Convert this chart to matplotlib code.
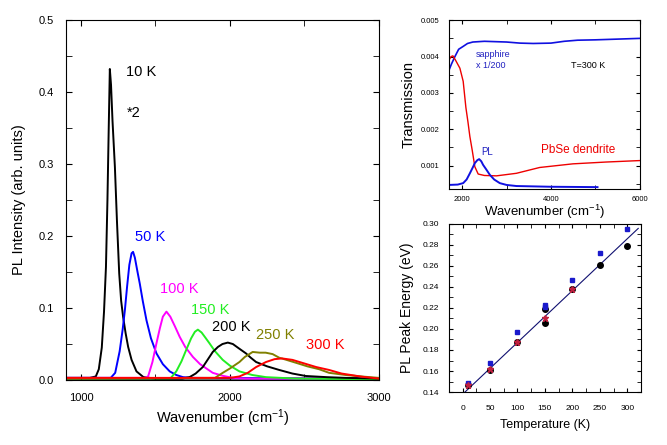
import matplotlib
matplotlib.use('Agg')
import matplotlib.pyplot as plt
from matplotlib.ticker import MultipleLocator, FormatStrFormatter

plt.rcParams['font.family'] = ['Liberation Sans', 'DejaVu Sans']
plt.rcParams['mathtext.default'] = 'regular'

# --- left panel: PL spectra at various temperatures ---
wn_10 = [900, 1060, 1100, 1120, 1140, 1155, 1168, 1178, 1186, 1194, 1202, 1212, 1228, 1242, 1257,
         1270, 1283, 1300, 1317, 1340, 1373, 1420, 1500, 2000, 2500, 3000]
pl_10 = [0.003, 0.003, 0.005, 0.015, 0.045, 0.095, 0.157, 0.25, 0.343, 0.432, 0.41, 0.36, 0.296, 0.22, 0.148,
         0.11, 0.088, 0.065, 0.046, 0.028, 0.012, 0.004, 0.002, 0.002, 0.002, 0.002]

wn_50 = [900, 1200, 1230, 1260, 1280, 1295, 1310, 1325, 1340, 1350, 1362, 1380, 1395, 1415, 1440,
         1470, 1507, 1550, 1596, 1640, 1685, 1750, 2500, 3000]
pl_50 = [0.003, 0.003, 0.01, 0.04, 0.07, 0.097, 0.13, 0.16, 0.176, 0.178, 0.17, 0.15, 0.134, 0.11, 0.083,
         0.058, 0.037, 0.022, 0.012, 0.007, 0.004, 0.003, 0.002, 0.002]

wn_100 = [900, 1430, 1451, 1480, 1507, 1530, 1550, 1574, 1600, 1630, 1663, 1700, 1752, 1800, 1885,
          1950, 2020, 2100, 3000]
pl_100 = [0.003, 0.003, 0.005, 0.025, 0.051, 0.072, 0.088, 0.095, 0.088, 0.075, 0.060, 0.046, 0.032, 0.022, 0.01,
          0.006, 0.003, 0.002, 0.002]

wn_150 = [900, 1600, 1640, 1675, 1707, 1740, 1765, 1785, 1810, 1835, 1863, 1900, 1952, 2000, 2064,
          2150, 2242, 2440, 3000]
pl_150 = [0.002, 0.002, 0.012, 0.026, 0.042, 0.058, 0.067, 0.070, 0.066, 0.059, 0.051, 0.04, 0.028, 0.02, 0.012,
          0.007, 0.004, 0.002, 0.001]

wn_200 = [900, 1680, 1729, 1770, 1818, 1850, 1885, 1920, 1950, 1986, 2020, 2060, 2108, 2140, 2176,
          2250, 2331, 2420, 2510, 2650, 2777, 3000]
pl_200 = [0.002, 0.002, 0.004, 0.009, 0.018, 0.028, 0.039, 0.046, 0.05, 0.052, 0.05, 0.044, 0.037, 0.031, 0.025,
          0.019, 0.014, 0.009, 0.0056, 0.004, 0.003, 0.002]

wn_250 = [900, 1900, 1952, 2000, 2064, 2100, 2153, 2200, 2240, 2287, 2331, 2380, 2443, 2520, 2599,
          2666, 2777, 2880, 3000]
pl_250 = [0.002, 0.003, 0.01, 0.016, 0.025, 0.032, 0.039, 0.038, 0.038, 0.036, 0.031, 0.028, 0.024, 0.019, 0.015,
          0.010, 0.007, 0.005, 0.003]

wn_300 = [900, 2000, 2064, 2120, 2176, 2242, 2300, 2350, 2420, 2500, 2580, 2666, 2750, 2887, 3000]
pl_300 = [0.003, 0.003, 0.005, 0.01, 0.018, 0.025, 0.029, 0.030, 0.028, 0.023, 0.018, 0.014, 0.009, 0.0046, 0.002]

spectra = [
    (wn_10, pl_10, 'black', '10 K', 1305, 0.428),
    (wn_50, pl_50, '#0000ff', '50 K', 1360, 0.198),
    (wn_100, pl_100, '#ff00ff', '100 K', 1528, 0.127),
    (wn_150, pl_150, '#22ee22', '150 K', 1740, 0.097),
    (wn_200, pl_200, 'black', '200 K', 1880, 0.074),
    (wn_250, pl_250, '#808000', '250 K', 2175, 0.0625),
    (wn_300, pl_300, '#ff0000', '300 K', 2510, 0.049),
]

# --- top right: transmission ---
wn_sapph = [1700, 1760, 1836, 1920, 2022, 2120, 2240, 2500, 3000, 3300, 3600, 4000, 4300, 4600, 5000, 5500, 6000]
tr_sapph = [0.00362, 0.0038, 0.004, 0.0042, 0.00428, 0.00436, 0.0044, 0.00442, 0.0044, 0.00437, 0.00436,
            0.00437, 0.00442, 0.00445, 0.00446, 0.00448, 0.0045]

wn_pbse = [1700, 1750, 1790, 1850, 1948, 2022, 2083, 2130, 2173, 2225, 2285, 2360, 2500, 2773, 3222, 3746,
           4494, 5245, 6000]
tr_pbse = [0.0039, 0.004, 0.00402, 0.0039, 0.00368, 0.00332, 0.0026, 0.0022, 0.0018, 0.00143, 0.00097, 0.00077,
           0.00073, 0.00072, 0.00079, 0.00095, 0.00105, 0.0011, 0.00114]

wn_pl = [1700, 1900, 2022, 2100, 2173, 2230, 2285, 2340, 2382, 2430, 2472, 2540, 2622, 2720, 2847, 3000,
         3222, 4000, 5050]
tr_pl = [0.00047, 0.00048, 0.00052, 0.00062, 0.00079, 0.00093, 0.00107, 0.00115, 0.00118, 0.00112, 0.00102,
         0.0009, 0.00075, 0.00062, 0.00052, 0.00047, 0.00044, 0.00042, 0.00041]

# --- bottom right: peak energy vs temperature ---
temp_circ = [10, 50, 100, 150, 150, 200, 250, 300]
e_circ = [0.1464, 0.1613, 0.1876, 0.2194, 0.2057, 0.2378, 0.2613, 0.2788]
temp_sq = [10, 50, 100, 150, 150, 200, 250, 300]
e_sq = [0.1486, 0.1676, 0.197, 0.2232, 0.2205, 0.247, 0.2718, 0.2947]
temp_star = [10, 50, 100, 150, 200]
e_star = [0.1466, 0.1615, 0.1878, 0.2109, 0.2378]
fit_slope = 0.000493
fit_intercept = 0.1379
fit_range = [4.2, 320]

fig = plt.figure(figsize=(6.67, 4.45), dpi=100)

# left panel
ax1 = fig.add_axes([0.099, 0.146, 0.469, 0.809])
for x, y, c, lab, tx, ty in spectra:
    ax1.plot(x, y, color=c, lw=1.4)
    ax1.text(tx, ty, lab, color=c, fontsize=10.5, va='center', ha='left')
ax1.text(1305, 0.371, '*2', color='black', fontsize=10.5, va='center', ha='left')
ax1.set_xlim(900, 3000)
ax1.set_ylim(0, 0.5)
ax1.xaxis.set_major_locator(MultipleLocator(1000))
ax1.xaxis.set_minor_locator(MultipleLocator(500))
ax1.yaxis.set_major_locator(MultipleLocator(0.1))
ax1.yaxis.set_minor_locator(MultipleLocator(0.05))
ax1.yaxis.set_major_formatter(FormatStrFormatter('%.1f'))
ax1.tick_params(which='both', direction='in', top=True, right=True, labelsize=8, length=4)
ax1.tick_params(axis='x', pad=9)
ax1.tick_params(axis='y', pad=9)
ax1.set_xlabel(r'Wavenumber (cm$^{-1}$)', fontsize=10.5)
ax1.xaxis.set_label_coords(0.5, -0.075)
ax1.set_ylabel('PL Intensity (arb. units)', fontsize=10.5)
ax1.yaxis.set_label_coords(-0.127, 0.5)

# top right panel
ax2 = fig.add_axes([0.673, 0.5746, 0.286, 0.380])
ax2.plot(wn_sapph, tr_sapph, color='#1010e0', lw=1.2)
ax2.plot(wn_pbse, tr_pbse, color='#ee0000', lw=1.0)
ax2.plot(wn_pl, tr_pl, color='#1010e0', lw=1.4)
ax2.text(2300, 0.0039, 'sapphire\nx 1/200', color='#2020c0', fontsize=6.5, va='center', ha='left',
         linespacing=1.3)
ax2.text(4450, 0.00375, 'T=300 K', color='black', fontsize=6.5, va='center', ha='left')
ax2.text(2440, 0.00138, 'PL', color='#2020c0', fontsize=7, va='center', ha='left')
ax2.text(3780, 0.00143, 'PbSe dendrite', color='#ee0000', fontsize=8.5, va='center', ha='left')
ax2.set_xlim(1700, 6000)
ax2.set_ylim(0.00035, 0.005)
ax2.xaxis.set_major_locator(MultipleLocator(2000))
ax2.xaxis.set_minor_locator(MultipleLocator(1000))
ax2.yaxis.set_major_locator(MultipleLocator(0.001))
ax2.yaxis.set_minor_locator(MultipleLocator(0.0005))
ax2.yaxis.set_major_formatter(FormatStrFormatter('%.3f'))
ax2.tick_params(which='both', direction='in', top=True, right=True, labelsize=5.5, length=3)
ax2.tick_params(axis='x', pad=5)
ax2.tick_params(axis='y', pad=7)
ax2.set_xlabel(r'Wavenumber (cm$^{-1}$)', fontsize=9.5)
ax2.xaxis.set_label_coords(0.5, -0.08)
ax2.set_ylabel('Transmission', fontsize=10.5)
ax2.yaxis.set_label_coords(-0.173, 0.5)

# bottom right panel
ax3 = fig.add_axes([0.673, 0.119, 0.288, 0.378])
fit_e = [fit_intercept + fit_slope * t for t in fit_range]
ax3.plot(fit_range, fit_e, color='#101070', lw=0.8)
ax3.plot(temp_circ, e_circ, 'o', color='black', markersize=4)
ax3.plot(temp_sq, e_sq, 's', color='#1a1acc', markersize=3)
ax3.plot(temp_star, e_star, '*', color='#c02040', markersize=5)
ax3.set_xlim(-25, 325)
ax3.set_ylim(0.14, 0.30)
ax3.xaxis.set_major_locator(MultipleLocator(50))
ax3.xaxis.set_minor_locator(MultipleLocator(25))
ax3.yaxis.set_major_locator(MultipleLocator(0.02))
ax3.yaxis.set_minor_locator(MultipleLocator(0.01))
ax3.yaxis.set_major_formatter(FormatStrFormatter('%.2f'))
ax3.tick_params(which='both', direction='in', top=True, right=True, labelsize=6, length=3)
ax3.tick_params(axis='x', pad=9)
ax3.tick_params(axis='y', pad=7)
ax3.set_xlabel('Temperature (K)', fontsize=9)
ax3.xaxis.set_label_coords(0.5, -0.16)
ax3.set_ylabel('PL Peak Energy (eV)', fontsize=10)
ax3.yaxis.set_label_coords(-0.182, 0.5)

fig.savefig('out.png', dpi=100)
